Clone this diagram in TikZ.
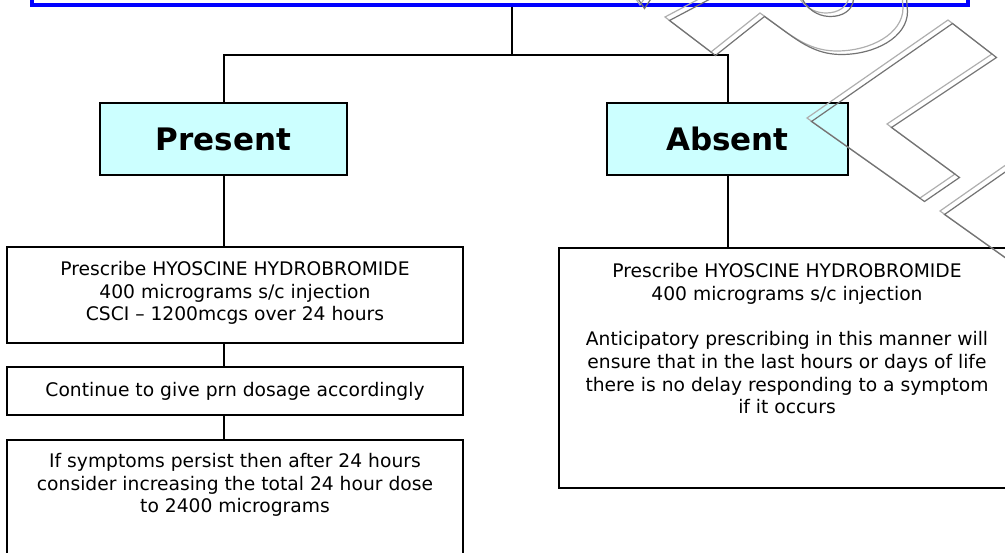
\documentclass[tikz,border=0pt]{standalone}
\usepackage{fontspec}
\setmainfont{DejaVu Sans}
\definecolor{lcyan}{RGB}{204,255,255}
\definecolor{wmlight}{RGB}{175,175,175}
\definecolor{wmdark}{RGB}{115,115,115}
\begin{document}
\begin{tikzpicture}[x=1pt,y=-1pt,
  titlebox/.style={draw=blue, line width=4pt, fill=white, inner sep=0pt},
  headbox/.style={draw=black, line width=2pt, fill=lcyan, inner sep=0pt,
    font=\fontsize{31}{36}\selectfont\bfseries},
  stepbox/.style={draw=black, line width=2pt, fill=white, inner sep=0pt,
    minimum width=456pt},
  boxtext/.style={align=center, inner sep=0pt, font=\fontsize{18.7}{22.7}\selectfont},
  conn/.style={draw=black, line width=2pt},
  wm/.style={line width=1.2pt, line join=miter}]
\useasboundingbox (0,0) rectangle (1005,553);
\clip (0,0) rectangle (1005,553);
% title
\node[titlebox, minimum width=936pt, minimum height=60pt, anchor=south] (title) at (500,7) {};
% heads
\node[headbox, minimum width=247pt, minimum height=72pt] (present) at (223.5,139) {Present};
\node[headbox, minimum width=241pt, minimum height=72pt] (absent) at (727.5,139) {Absent};
% left boxes
\node[stepbox, minimum height=96pt] (p1) at (235,295) {};
\node[boxtext] (p1t) at ([yshift=2pt]p1.center) {Prescribe HYOSCINE HYDROBROMIDE\\400 micrograms s/c injection\\CSCI -- 1200mcgs over 24 hours};
\node[stepbox, minimum height=48pt] (p2) at (235,391) {};
\node[boxtext] (p2t) at (p2.center) {Continue to give prn dosage accordingly};
\node[stepbox, minimum height=160pt, anchor=north] (p3) at (235,439) {};
\node[boxtext, anchor=north] (p3t) at ([yshift=-14pt]p3.north) {If symptoms persist then after 24 hours\\consider increasing the total 24 hour dose\\to 2400 micrograms};
% right box
\node[stepbox, minimum height=240pt, anchor=north] (a1) at (787,247) {};
\node[boxtext, anchor=north] (a1t) at ([yshift=-16.5pt]a1.north) {Prescribe HYOSCINE HYDROBROMIDE\\400 micrograms s/c injection\\[22.5pt]Anticipatory prescribing in this manner will\\ensure that in the last hours or days of life\\there is no delay responding to a symptom\\if it occurs};
% connectors
\coordinate (j) at (512,55);
\draw[conn] (title.south -| j) -- (j);
\draw[conn] (present.north) |- (j) -| (absent.north);
\draw[conn] (present.south) -- (present.south |- p1.north);
\draw[conn] (present.south |- p1.south) -- (present.south |- p2.north);
\draw[conn] (present.south |- p2.south) -- (present.south |- p3.north);
\draw[conn] (absent.south) -- (absent.south |- a1.north);
% watermark outlines
\foreach \dx/\dy/\c in {0/0/wmlight, 4.5/3.5/wmdark} {
  \begin{scope}[shift={(\dx,\dy)}]
  \draw[wm, draw=\c] (716,-10) -- (665,17) -- (711,52) -- (760,13) -- (782,29)
     .. controls (800,42) and (815,51) .. (837,51)
     .. controls (870,51) and (903,34) .. (903,8) -- (902,-6);
  \draw[wm, draw=\c] (798,-4) .. controls (806,10) and (818,13) .. (826,13)
     .. controls (838,13) and (848,7) .. (849,-4);
  \draw[wm, draw=\c] (807,118) -- (948,20) -- (992,54) -- (887,124) -- (955,174) -- (920,198) -- cycle;
  \draw[wm, draw=\c] (1020,155) -- (940,211) -- (1020,268);
  \draw[wm, draw=\c] (634,-4) -- (640,5) -- (646,-4);
  \end{scope}
}
\end{tikzpicture}
\end{document}
